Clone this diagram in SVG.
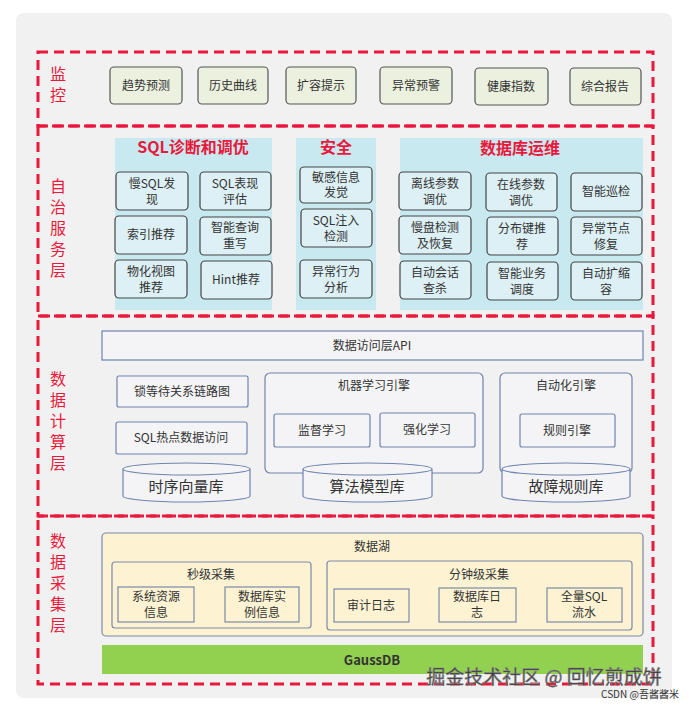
<svg xmlns="http://www.w3.org/2000/svg" width="698" height="709" viewBox="0 0 698 709">
<style>
text{font-family:"Noto Sans CJK SC","Liberation Sans",sans-serif;text-anchor:middle;fill:#333}
.frame{fill:none;stroke:#e8193c;stroke-width:3;stroke-dasharray:10 6}
.lay{fill:#e8193c;font-size:16px}
.mon{fill:#ebf1de;stroke:#555;stroke-width:1.2}
.pan{fill:#c9e9f0}
.ttl{fill:#e8193c;font-weight:bold;font-size:16px}
.cb{fill:#ddf0f5;stroke:#444;stroke-width:1.2}
.wb{fill:#f4f4f6;stroke:#6f84b0;stroke-width:1.2}
.yl{fill:#fdf3d3;stroke:#7b8aa8;stroke-width:1.2}
.t{font-size:12px}
.tb{font-size:15px}
</style>
<rect x="0" y="0" width="698" height="709" fill="#fff"/>
<rect x="16" y="13" width="656" height="685" rx="8" fill="#f1f1f1"/>
<g id="frames">
<rect class="frame" x="38" y="52" width="615" height="74"/>
<rect class="frame" x="38" y="126" width="615" height="190"/>
<rect class="frame" x="38" y="316" width="615" height="200"/>
<rect class="frame" x="38" y="516" width="615" height="168"/>
<text class="lay" x="58" y="80">监</text><text class="lay" x="58" y="101">控</text>
<text class="lay" x="58" y="192">自</text><text class="lay" x="58" y="213">治</text><text class="lay" x="58" y="234">服</text><text class="lay" x="58" y="255">务</text><text class="lay" x="58" y="276">层</text>
<text class="lay" x="58" y="385">数</text><text class="lay" x="58" y="406">据</text><text class="lay" x="58" y="427">计</text><text class="lay" x="58" y="448">算</text><text class="lay" x="58" y="469">层</text>
<text class="lay" x="58" y="547">数</text><text class="lay" x="58" y="568">据</text><text class="lay" x="58" y="589">采</text><text class="lay" x="58" y="610">集</text><text class="lay" x="58" y="631">层</text>
</g>
<g id="monitor">
<rect class="mon" x="110" y="67" width="72" height="37" rx="4"/><text class="t" x="146" y="90">趋势预测</text>
<rect class="mon" x="198" y="67" width="70" height="37" rx="4"/><text class="t" x="233" y="90">历史曲线</text>
<rect class="mon" x="286" y="67" width="70" height="37" rx="4"/><text class="t" x="321" y="90">扩容提示</text>
<rect class="mon" x="380" y="67" width="72" height="37" rx="4"/><text class="t" x="416" y="90">异常预警</text>
<rect class="mon" x="475" y="68" width="73" height="37" rx="4"/><text class="t" x="511" y="91">健康指数</text>
<rect class="mon" x="570" y="68" width="71" height="37" rx="4"/><text class="t" x="605" y="91">综合报告</text>
</g>
<g id="sql">
<rect class="pan" x="115" y="138" width="157" height="172"/>
<text class="ttl" x="193" y="153">SQL诊断和调优</text>
<rect class="cb" x="116" y="172" width="72" height="38" rx="4"/><text class="t" x="152" y="188">慢SQL发</text><text class="t" x="152" y="204">现</text>
<rect class="cb" x="200" y="172" width="71" height="38" rx="4"/><text class="t" x="235" y="188">SQL表现</text><text class="t" x="235" y="204">评估</text>
<rect class="cb" x="115" y="216" width="72" height="38" rx="4"/><text class="t" x="151" y="239">索引推荐</text>
<rect class="cb" x="200" y="217" width="71" height="38" rx="4"/><text class="t" x="235" y="232">智能查询</text><text class="t" x="235" y="248">重写</text>
<rect class="cb" x="115" y="260" width="72" height="38" rx="4"/><text class="t" x="151" y="276">物化视图</text><text class="t" x="151" y="292">推荐</text>
<rect class="cb" x="201" y="261" width="71" height="38" rx="4"/><text class="t" x="236" y="284">Hint推荐</text>
</g>
<g id="security">
<rect class="pan" x="296" y="138" width="80" height="172"/>
<text class="ttl" x="336" y="153">安全</text>
<rect class="cb" x="300" y="167" width="72" height="36" rx="4"/><text class="t" x="336" y="182">敏感信息</text><text class="t" x="336" y="197">发觉</text>
<rect class="cb" x="301" y="209" width="71" height="38" rx="4"/><text class="t" x="336" y="225">SQL注入</text><text class="t" x="336" y="241">检测</text>
<rect class="cb" x="300" y="260" width="72" height="38" rx="4"/><text class="t" x="336" y="276">异常行为</text><text class="t" x="336" y="292">分析</text>
</g>
<g id="ops">
<rect class="pan" x="400" y="138" width="243" height="172"/>
<text class="ttl" x="520" y="154">数据库运维</text>
<rect class="cb" x="399" y="172" width="72" height="38" rx="4"/><text class="t" x="435" y="188">离线参数</text><text class="t" x="435" y="204">调优</text>
<rect class="cb" x="486" y="173" width="71" height="38" rx="4"/><text class="t" x="521" y="189">在线参数</text><text class="t" x="521" y="205">调优</text>
<rect class="cb" x="571" y="173" width="71" height="38" rx="4"/><text class="t" x="606" y="196">智能巡检</text>
<rect class="cb" x="399" y="216" width="72" height="38" rx="4"/><text class="t" x="435" y="232">慢盘检测</text><text class="t" x="435" y="248">及恢复</text>
<rect class="cb" x="487" y="217" width="71" height="38" rx="4"/><text class="t" x="522" y="233">分布键推</text><text class="t" x="522" y="249">荐</text>
<rect class="cb" x="571" y="217" width="71" height="38" rx="4"/><text class="t" x="606" y="233">异常节点</text><text class="t" x="606" y="249">修复</text>
<rect class="cb" x="400" y="261" width="71" height="38" rx="4"/><text class="t" x="435" y="277">自动会话</text><text class="t" x="435" y="293">查杀</text>
<rect class="cb" x="487" y="262" width="71" height="38" rx="4"/><text class="t" x="522" y="278">智能业务</text><text class="t" x="522" y="294">调度</text>
<rect class="cb" x="571" y="262" width="71" height="38" rx="4"/><text class="t" x="606" y="278">自动扩缩</text><text class="t" x="606" y="294">容</text>
</g>
<g id="compute">
<rect class="wb" x="102" y="331" width="541" height="29"/><text class="t" x="372" y="350">数据访问层API</text>
<rect class="wb" x="117" y="376" width="131" height="31" rx="2"/><text class="t" x="182" y="396">锁等待关系链路图</text>
<rect class="wb" x="116" y="422" width="131" height="32" rx="2"/><text class="t" x="181" y="442">SQL热点数据访问</text>
<rect class="wb" x="265" y="373" width="218" height="100" rx="5"/><text class="t" x="374" y="390">机器学习引擎</text>
<rect class="wb" x="274" y="414" width="96" height="33" rx="2"/><text class="t" x="322" y="435">监督学习</text>
<rect class="wb" x="380" y="413" width="95" height="34" rx="2"/><text class="t" x="427" y="434">强化学习</text>
<rect class="wb" x="500" y="373" width="132" height="100" rx="5"/><text class="t" x="566" y="390">自动化引擎</text>
<rect class="wb" x="520" y="414" width="95" height="33" rx="2"/><text class="t" x="567" y="435">规则引擎</text>
</g>
<g id="stores">
<path class="wb" d="M123,469 v27 a63.5,6 0 0 0 127,0 v-27 a63.5,6 0 0 0 -127,0 a63.5,6 0 0 0 127,0"/><text class="tb" x="186" y="492">时序向量库</text>
<path class="wb" d="M303,469 v27 a64.5,6 0 0 0 129,0 v-27 a64.5,6 0 0 0 -129,0 a64.5,6 0 0 0 129,0"/><text class="tb" x="367" y="492">算法模型库</text>
<path class="wb" d="M502,469 v27 a64,6 0 0 0 128,0 v-27 a64,6 0 0 0 -128,0 a64,6 0 0 0 128,0"/><text class="tb" x="566" y="492">故障规则库</text>
</g>
<g id="collect">
<rect class="yl" x="102" y="533" width="541" height="103" rx="4"/><text class="t" x="372" y="551">数据湖</text>
<rect class="yl" x="112" y="562" width="199" height="66" rx="3"/><text class="t" x="211" y="579">秒级采集</text>
<rect class="yl" x="118" y="587" width="76" height="35"/><text class="t" x="156" y="601">系统资源</text><text class="t" x="156" y="617">信息</text>
<rect class="yl" x="225" y="587" width="74" height="35"/><text class="t" x="262" y="601">数据库实</text><text class="t" x="262" y="617">例信息</text>
<rect class="yl" x="327" y="561" width="305" height="69" rx="3"/><text class="t" x="479" y="579">分钟级采集</text>
<rect class="yl" x="334" y="589" width="75" height="33"/><text class="t" x="371" y="610">审计日志</text>
<rect class="yl" x="439" y="588" width="77" height="34"/><text class="t" x="477" y="601">数据库日</text><text class="t" x="477" y="617">志</text>
<rect class="yl" x="547" y="588" width="75" height="34"/><text class="t" x="584" y="601">全量SQL</text><text class="t" x="584" y="617">流水</text>
<rect x="102" y="645" width="541" height="29" fill="#92d050"/><text x="372" y="665" font-size="13" font-weight="bold" fill="#222">GaussDB</text>
</g>
<g id="watermark">
<text x="544" y="684" font-size="19" fill="#fff" stroke="#888" stroke-width="0.6">掘金技术社区 @ 回忆煎成饼</text>
<text x="640" y="698" font-size="10" fill="#aaa">CSDN @吾酱酱米</text>
</g>
</svg>
